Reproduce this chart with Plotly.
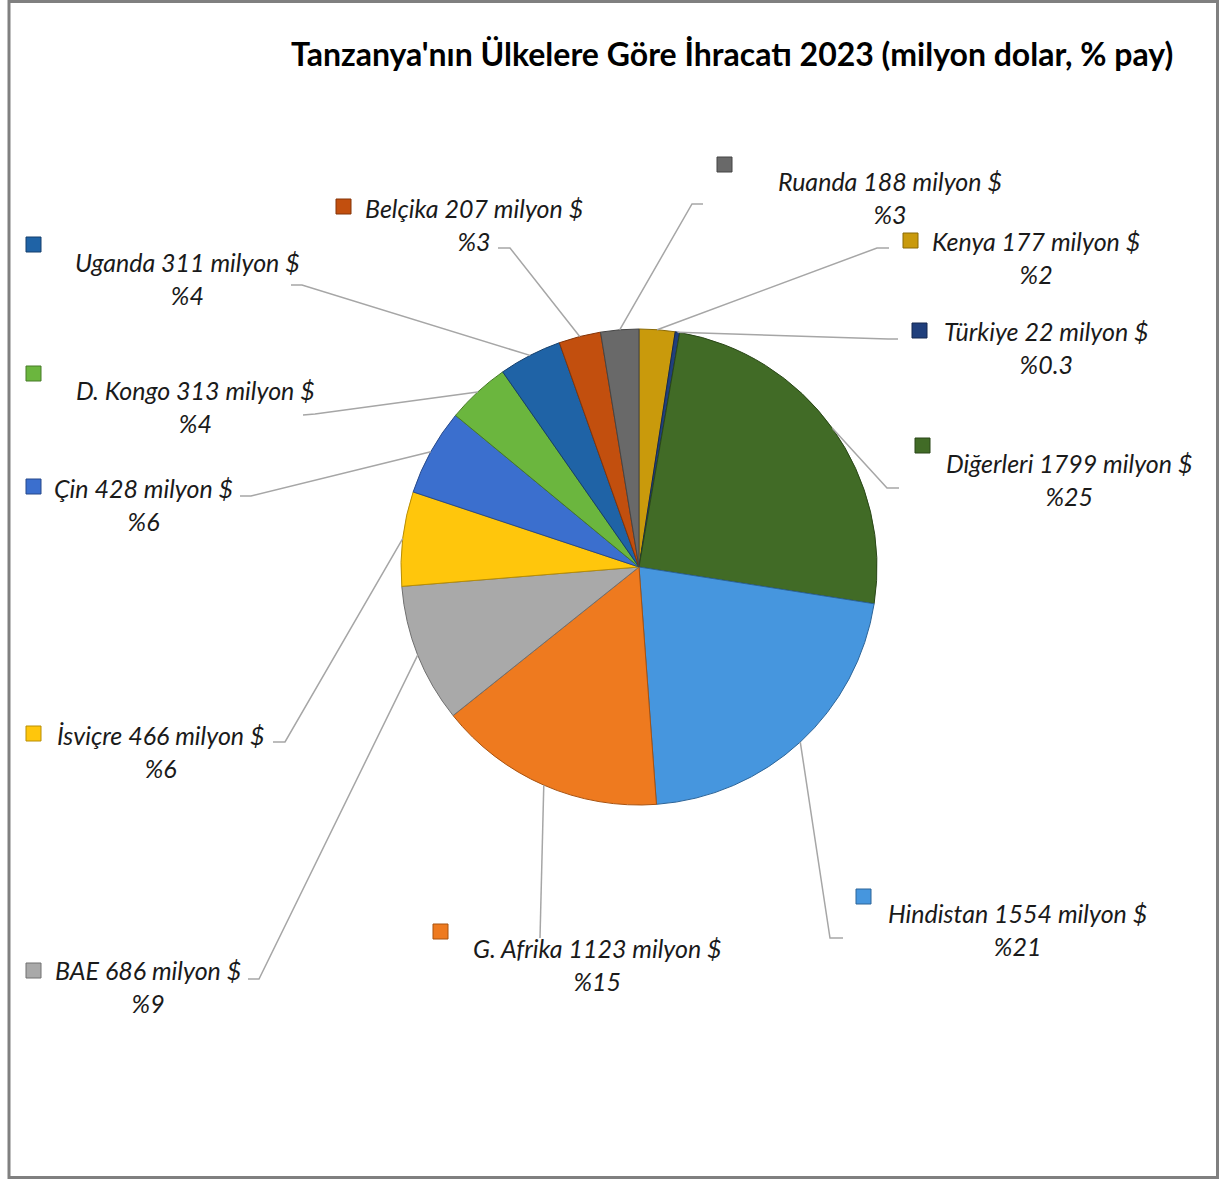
import math
import plotly.graph_objects as go

# ---- data (clockwise from 12 o'clock) ----
countries = ["Kenya", "Türkiye", "Diğerleri", "Hindistan", "G. Afrika", "BAE",
             "İsviçre", "Çin", "D. Kongo", "Uganda", "Belçika", "Ruanda"]
values = [177, 22, 1799, 1554, 1123, 686, 466, 428, 313, 311, 207, 188]
colors = ["#C99A0C", "#203F7C", "#416B26", "#4696DE", "#EE7A1F", "#A9A9A9",
          "#FFC60C", "#3B6FCE", "#6BB63E", "#1F63A6", "#C24F0E", "#696969"]
edge_colors = ["#8A6A06", "#142850", "#2A4718", "#2C6498", "#A9520F", "#707070",
               "#B88E05", "#27498A", "#467A27", "#143F6C", "#843408", "#454545"]
title_text = "Tanzanya'nın Ülkelere Göre İhracatı 2023 (milyon dolar, % pay)"

W, H = 1219, 1179
CX, CY, R = 639, 567, 238  # pie centre / radius in pixels


def px(x):
    return x / W


def py(y):
    return 1 - y / H


# ---- layout: label block centre, legend key top-left, leader elbow/end ----
label_pos = {
    "Kenya": (1036, 257), "Türkiye": (1046, 348), "Diğerleri": (1069, 479),
    "Hindistan": (1017, 929), "G. Afrika": (597, 964), "BAE": (148, 986),
    "İsviçre": (160, 751), "Çin": (143, 504), "D. Kongo": (195, 406),
    "Uganda": (187, 278), "Belçika": (474, 224), "Ruanda": (890, 197),
}
key_pos = {
    "Kenya": (903, 233), "Türkiye": (912, 323), "Diğerleri": (915, 438),
    "Hindistan": (856, 889), "G. Afrika": (433, 924), "BAE": (26, 963),
    "İsviçre": (26, 726), "Çin": (26, 479), "D. Kongo": (26, 366),
    "Uganda": (26, 237), "Belçika": (336, 199), "Ruanda": (717, 157),
}
leader = {
    "Kenya": ((877, 248), (889, 248)), "Türkiye": ((888, 339), (898, 339)),
    "Diğerleri": ((887, 488), (899, 488)), "Hindistan": ((830, 938), (843, 938)),
    "G. Afrika": ((540, 938), (540, 938)), "BAE": ((259, 979), (248, 979)),
    "İsviçre": ((285, 742), (273, 742)), "Çin": ((251, 496), (240, 496)),
    "D. Kongo": ((315, 414), (303, 415)), "Uganda": ((302, 285), (291, 285)),
    "Belçika": ((510, 248), (498, 248)), "Ruanda": ((692, 204), (703, 204)),
}

total = sum(values)

fig = go.Figure()
fig.add_trace(go.Pie(
    labels=countries, values=values, sort=False, direction="clockwise",
    rotation=0, textinfo="none", showlegend=False,
    marker=dict(colors=colors, line=dict(color=edge_colors, width=1)),
    domain=dict(x=[px(CX - R), px(CX + R)], y=[py(CY + R), py(CY - R)]),
))

shapes = []
annotations = []
font_lbl = dict(family="Lato, Carlito, sans-serif", size=25, color="#1a1a1a",
                style="italic")

cum = 0
for name, v, c, ec in zip(countries, values, colors, edge_colors):
    mid = (cum + v / 2) / total * 2 * math.pi
    cum += v
    sx = CX + R * math.sin(mid)
    sy = CY - R * math.cos(mid)
    (ex, ey), (fx, fy) = leader[name]
    shapes.append(dict(type="path", xref="paper", yref="paper",
                       path=f"M {px(sx)},{py(sy)} L {px(ex)},{py(ey)} L {px(fx)},{py(fy)}",
                       line=dict(color="#A6A6A6", width=1.5)))
    kx, ky = key_pos[name]
    shapes.append(dict(type="rect", xref="paper", yref="paper",
                       x0=px(kx), x1=px(kx + 15), y0=py(ky), y1=py(ky + 15),
                       fillcolor=c, line=dict(color=ec, width=1)))
    pct = v / total * 100
    pct_s = f"{pct:.1f}" if pct < 1 else f"{round(pct)}"
    lx, ly = label_pos[name]
    annotations.append(dict(
        x=px(lx), y=py(ly), xref="paper", yref="paper", showarrow=False,
        xanchor="center", yanchor="middle", align="center",
        text=f"{name} {v} milyon $<br>%{pct_s}", font=font_lbl))

# frame
shapes.append(dict(type="rect", xref="paper", yref="paper",
                   x0=px(9), x1=px(1217.5), y0=py(1177.5), y1=py(1.5),
                   line=dict(color="#808080", width=3), fillcolor="rgba(0,0,0,0)"))

annotations.append(dict(
    x=px(1175), y=py(54), xref="paper", yref="paper", showarrow=False,
    xanchor="right", yanchor="middle", text=f"<b>{title_text}</b>",
    font=dict(family="Lato, Carlito, sans-serif", size=32, color="#000000")))

fig.update_layout(
    width=W, height=H, margin=dict(l=0, r=0, t=0, b=0),
    paper_bgcolor="white", plot_bgcolor="white",
    shapes=shapes, annotations=annotations,
)

fig.write_html("out.html", config={"displayModeBar": False},
               post_script="document.body.style.margin='0';document.body.style.overflow='hidden';")
